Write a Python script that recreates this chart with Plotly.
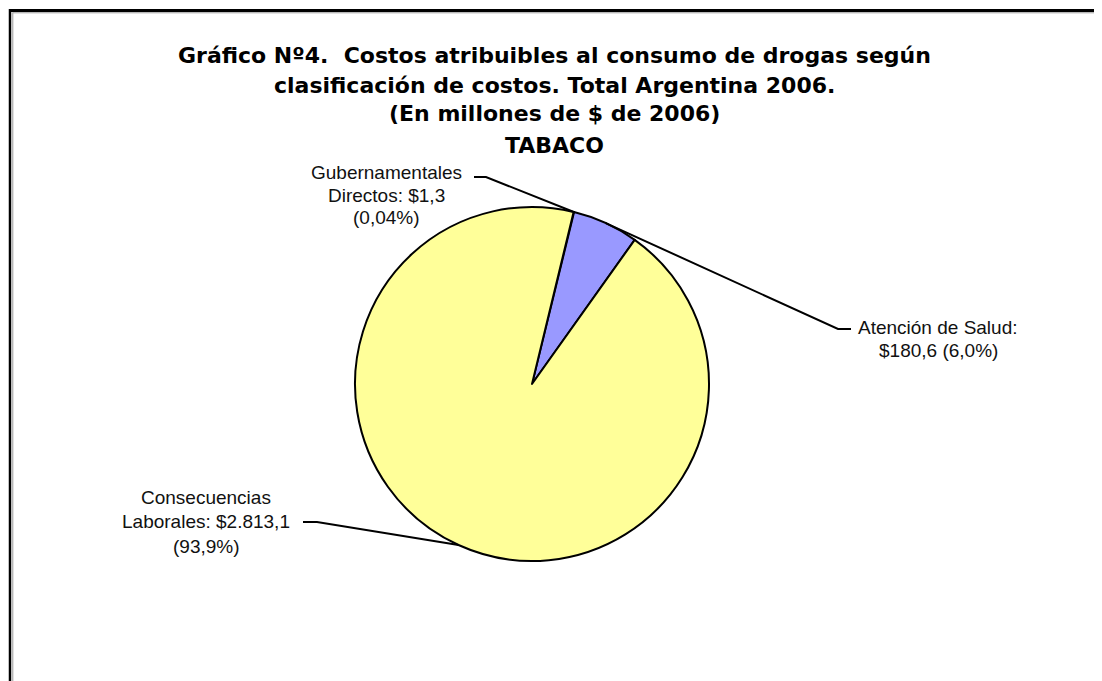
import math
import plotly.graph_objects as go

# ---- data ----
categories = ["Gubernamentales Directos", "Atención de Salud", "Consecuencias Laborales"]
values = [1.3, 180.6, 2813.1]
colors = ["#993366", "#9999FF", "#FFFF99"]
label_lines = [
    ["Gubernamentales", "Directos: $1,3", "(0,04%)"],
    ["Atención de Salud:", "$180,6 (6,0%)"],
    ["Consecuencias", "Laborales: $2.813,1", "(93,9%)"],
]
title_lines = [
    "Gráfico Nº4.&nbsp; Costos atribuibles al consumo de drogas según",
    "clasificación de costos. Total Argentina 2006.",
    "(En millones de $ de 2006)",
    "TABACO",
]

# ---- layout geometry (pixels, page coordinates) ----
W, H = 1102, 681
OFF = 8  # page body margin
cx, cy, R = 532, 384, 177
rotation = 13.6


def px(x):
    return (x - OFF) / W


def py(y):
    return (H - (y - OFF)) / H


fig = go.Figure()
fig.add_trace(go.Pie(
    labels=categories,
    values=values,
    sort=False,
    direction="clockwise",
    rotation=rotation,
    textinfo="none",
    hoverinfo="label+value+percent",
    marker=dict(colors=colors, line=dict(color="black", width=2)),
    showlegend=False,
    domain=dict(x=[px(cx - R), px(cx + R)], y=[py(cy + R), py(cy - R)]),
))

# slice mid-angles computed from data
total = sum(values)
mids = []
acc = 0.0
for v in values:
    frac = v / total
    mids.append(rotation + (acc + frac / 2) * 360)
    acc += frac


def edge_point(theta_deg):
    t = math.radians(theta_deg)
    return cx + R * math.sin(t), cy - R * math.cos(t)


# label placement (pixels): center x, line y's, leader start (x, y, direction)
label_pos = [
    dict(x=386, ys=[172, 195, 218], lead=(474, 177, 12)),
    dict(x=938, ys=[327, 351], lead=(851, 329, -13)),
    dict(x=206, ys=[497, 521, 546], lead=(303, 522, 14)),
]

annotations = []
shapes = []
for i, (lines, pos) in enumerate(zip(label_lines, label_pos)):
    for txt, yy in zip(lines, pos["ys"]):
        annotations.append(dict(
            x=px(pos["x"]), y=py(yy), xref="paper", yref="paper",
            text=txt, showarrow=False, xanchor="center", yanchor="middle",
            font=dict(family="Liberation Sans, Arial", size=19, color="#111"),
        ))
    lx, ly, d = pos["lead"]
    ex, ey = edge_point(mids[i])
    shapes.append(dict(
        type="path", xref="paper", yref="paper",
        path=f"M {px(lx)} {py(ly)} L {px(lx + d)} {py(ly)} L {px(ex)} {py(ey)}",
        line=dict(color="black", width=2),
    ))

title_ys = [56, 85, 114, 145]
for txt, yy in zip(title_lines, title_ys):
    annotations.append(dict(
        x=px(554), y=py(yy), xref="paper", yref="paper",
        text=f"<b>{txt}</b>", showarrow=False, xanchor="center", yanchor="middle",
        font=dict(family="DejaVu Sans", size=22, color="black"),
    ))

# frame
shapes += [
    dict(type="line", xref="paper", yref="paper", x0=px(9), x1=1, y0=py(10.5), y1=py(10.5),
         line=dict(color="black", width=3)),
    dict(type="line", xref="paper", yref="paper", x0=px(12.5), x1=1, y0=py(12.8), y1=py(12.8),
         line=dict(color="#9a9a9a", width=1)),
    dict(type="line", xref="paper", yref="paper", x0=px(10), x1=px(10), y0=py(9), y1=0,
         line=dict(color="black", width=2.5)),
    dict(type="line", xref="paper", yref="paper", x0=px(12.8), x1=px(12.8), y0=py(12.5), y1=0,
         line=dict(color="#9a9a9a", width=1)),
]

fig.update_layout(
    width=W, height=H,
    margin=dict(l=0, r=0, t=0, b=0),
    paper_bgcolor="white", plot_bgcolor="white",
    annotations=annotations, shapes=shapes,
)

fig.write_html("out.html")
